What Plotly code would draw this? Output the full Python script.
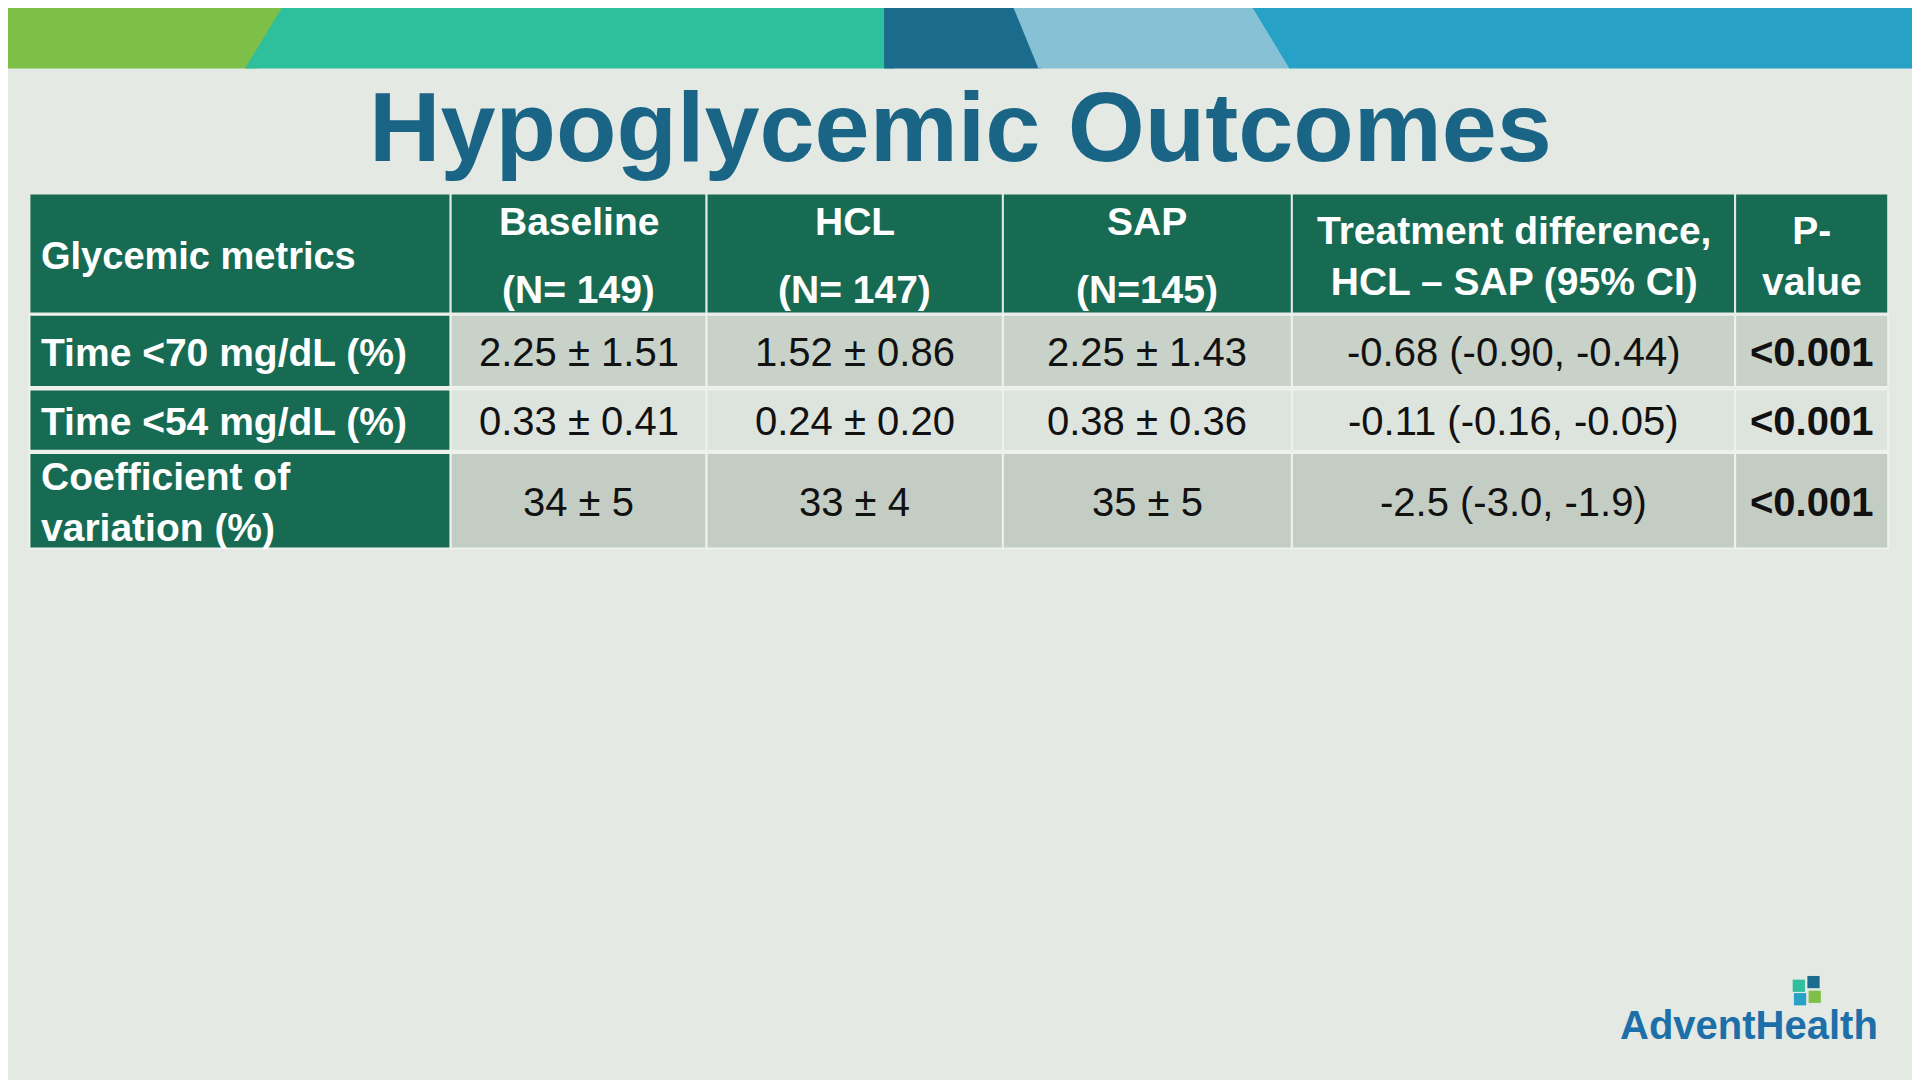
import plotly.graph_objects as go

col_headers = ["Glycemic metrics", ["Baseline", "(N= 149)"], ["HCL", "(N= 147)"], ["SAP", "(N=145)"],
               "Treatment difference,<br>HCL – SAP (95% CI)", "P-<br>value"]
row_labels = ["Time <70 mg/dL (%)", "Time <54 mg/dL (%)", "Coefficient of<br>variation (%)"]
baseline = ["2.25 ± 1.51", "0.33 ± 0.41", "34 ± 5"]
hcl = ["1.52 ± 0.86", "0.24 ± 0.20", "33 ± 4"]
sap = ["2.25 ± 1.43", "0.38 ± 0.36", "35 ± 5"]
diff = ["-0.68 (-0.90, -0.44)", "-0.11 (-0.16, -0.05)", "-2.5 (-3.0, -1.9)"]
pval = ["<0.001", "<0.001", "<0.001"]

xs = [24, 368, 577, 819, 1055, 1417, 1542]
ys = [158, 256, 317, 369, 449]
row_fill = ["#c8d2c9", "#dde3dd", "#c4cdc4"]
GREEN = "#176b53"
F = "Liberation Sans"
OFF = 6.5  # compensate page body margin

fig = go.Figure()
shapes, ann = [], []
def poly(path, color):
    shapes.append(dict(type="path", path=path, fillcolor=color, line=dict(width=0), layer="below"))
poly("M-10,-10 L245,-10 L210,56 L-10,56 Z", "#7dbf47")
poly("M240,-10 L730,-10 L730,56 L200,56 Z", "#2ebf9c")
poly("M722,-10 L826,-10 L850,56 L722,56 Z", "#1a6b8c")
poly("M821,-10 L1015,-10 L1055,56 L848,56 Z", "#87c1d6")
poly("M1013,-10 L1580,-10 L1580,56 L1053,56 Z", "#27a2c6")

ann.append(dict(x=784, y=103, text="<b>Hypoglycemic Outcomes</b>", showarrow=False,
                font=dict(size=99, color="#1a6585", family=F)))

cols = [row_labels, baseline, hcl, sap, diff, pval]
for c in range(6):
    x0, x1 = xs[c], xs[c + 1]
    cx = (x0 + 8) if c == 0 else (x0 + x1) / 2
    xa = "left" if c == 0 else "center"
    shapes.append(dict(type="rect", x0=x0, x1=x1, y0=ys[0], y1=ys[1], fillcolor=GREEN,
                       line=dict(color="#e4e9e4", width=2)))
    h = col_headers[c]
    if isinstance(h, list):
        for t, yy in zip(h, [181, 236]):
            ann.append(dict(x=cx, y=yy, text="<b>" + t + "</b>", showarrow=False, xanchor=xa,
                            font=dict(size=39, color="white", family=F)))
    else:
        ann.append(dict(x=cx, y=(ys[0] + ys[1]) / 2 + 2, text="<b>" + h + "</b>", showarrow=False, xanchor=xa,
                        font=dict(size=38 if c == 0 else 39, color="white", family=F)))
    for r in range(3):
        y0, y1 = ys[r + 1], ys[r + 2]
        fill = GREEN if c == 0 else row_fill[r]
        shapes.append(dict(type="rect", x0=x0, x1=x1, y0=y0 + 1, y1=y1 - 1, fillcolor=fill,
                           line=dict(color="#eef1ee", width=2)))
        txt = cols[c][r]
        if c in (0, 5):
            txt = "<b>" + txt + "</b>"
        ann.append(dict(x=cx, y=(y0 + y1) / 2 + 1, text=txt, showarrow=False,
                        xanchor=xa, align="left" if c == 0 else "center",
                        font=dict(size=39 if c == 0 else 40, color="white" if c == 0 else "#111111", family=F)))

for (x, y, col) in [(1464, 800, "#2ebf9c"), (1476, 797, "#1a6b8c"), (1465, 811, "#27a2c6"), (1477, 809, "#7dbf47")]:
    shapes.append(dict(type="rect", x0=x, x1=x + 10, y0=y, y1=y + 10, fillcolor=col, line=dict(width=0)))
ann.append(dict(x=1428, y=837, text="<b>AdventHealth</b>", showarrow=False,
                font=dict(size=40, color="#1c6fa8", family=F)))

fig.update_layout(width=1920, height=1080, margin=dict(l=0, r=0, t=0, b=0),
                  paper_bgcolor="#e4e9e4", plot_bgcolor="#e4e9e4",
                  xaxis=dict(range=[OFF, 1568 + OFF], visible=False, fixedrange=True),
                  yaxis=dict(range=[882 + OFF, OFF], visible=False, fixedrange=True),
                  shapes=shapes, annotations=ann, showlegend=False)
fig.write_html("out.html")
